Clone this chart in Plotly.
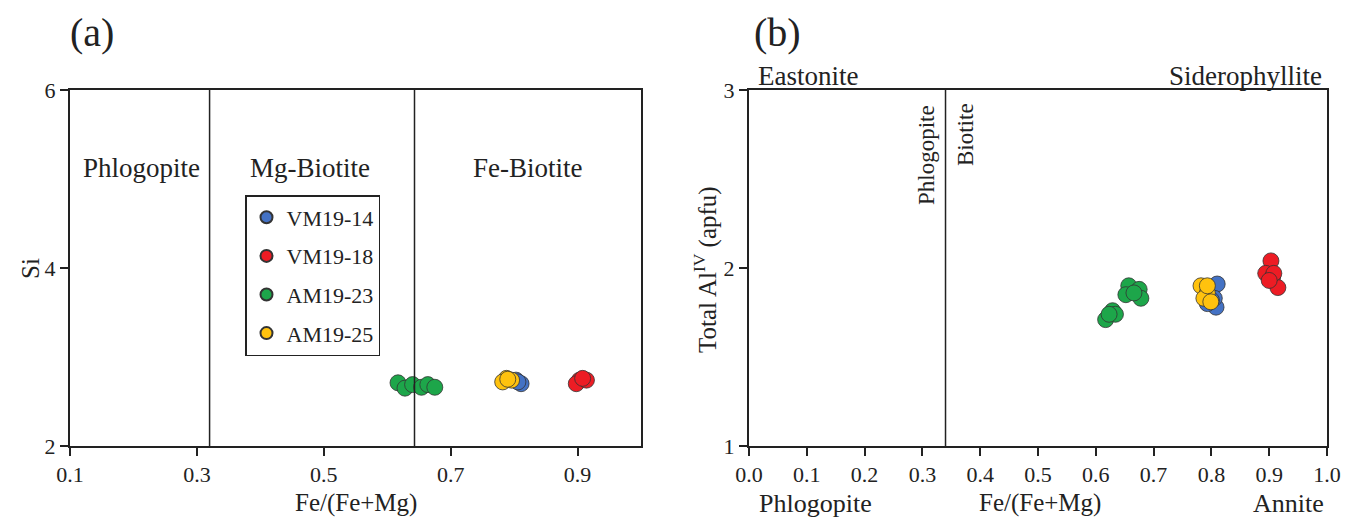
import plotly.graph_objects as go

# ---------------- data ----------------
series_names = ["VM19-14", "VM19-18", "AM19-23", "AM19-25"]
series_colors = ["#4472C4", "#ED1C24", "#1DA64A", "#FFC20E"]

# panel (a): Fe/(Fe+Mg) vs Si
a_vm1914_x = [0.803, 0.811, 0.806]
a_vm1914_y = [2.74, 2.70, 2.72]
a_vm1918_x = [0.903, 0.898, 0.914, 0.908]
a_vm1918_y = [2.74, 2.70, 2.74, 2.76]
a_am1923_x = [0.617, 0.628, 0.640, 0.654, 0.664, 0.675]
a_am1923_y = [2.71, 2.65, 2.69, 2.66, 2.69, 2.66]
a_am1925_x = [0.788, 0.782, 0.796, 0.790]
a_am1925_y = [2.76, 2.72, 2.74, 2.75]

# panel (b): Fe/(Fe+Mg) vs total Al(IV)
b_vm1914_x = [0.810, 0.808, 0.793, 0.805, 0.800]
b_vm1914_y = [1.91, 1.78, 1.80, 1.83, 1.82]
b_vm1918_x = [0.903, 0.894, 0.906, 0.915, 0.908, 0.900]
b_vm1918_y = [2.04, 1.97, 1.95, 1.89, 1.97, 1.93]
b_am1923_x = [0.657, 0.675, 0.678, 0.652, 0.666, 0.629, 0.617, 0.634, 0.623]
b_am1923_y = [1.90, 1.88, 1.83, 1.85, 1.86, 1.76, 1.71, 1.74, 1.74]
b_am1925_x = [0.782, 0.793, 0.787, 0.799, 0.793]
b_am1925_y = [1.90, 1.86, 1.83, 1.81, 1.90]

a_xticks = [0.1, 0.3, 0.5, 0.7, 0.9]
a_yticks = [2, 4, 6]
b_xticks = [0.0, 0.1, 0.2, 0.3, 0.4, 0.5, 0.6, 0.7, 0.8, 0.9, 1.0]
b_yticks = [1, 2, 3]

a_boundaries = [0.32, 0.643]
b_boundary = 0.34

FONT = "Times New Roman, Liberation Serif, serif"
INK = "#222222"

# the page body has an 8px margin; figure fills the rest of the window
W, H, OFF = 1344, 511, 8
def fx(px):
    return (px - OFF) / W
def fy(py):
    return 1 - (py - OFF) / H

fig = go.Figure()

a_data = [(a_vm1914_x, a_vm1914_y), (a_vm1918_x, a_vm1918_y),
          (a_am1923_x, a_am1923_y), (a_am1925_x, a_am1925_y)]
b_data = [(b_vm1914_x, b_vm1914_y), (b_vm1918_x, b_vm1918_y),
          (b_am1923_x, b_am1923_y), (b_am1925_x, b_am1925_y)]

for i, (name, col) in enumerate(zip(series_names, series_colors)):
    xs, ys = a_data[i]
    fig.add_trace(go.Scatter(
        x=xs, y=ys, mode="markers", name=name, legendgroup=name,
        marker=dict(size=16, color=col, line=dict(color="#333333", width=0.8)),
        xaxis="x", yaxis="y"))
for i, (name, col) in enumerate(zip(series_names, series_colors)):
    xs, ys = b_data[i]
    fig.add_trace(go.Scatter(
        x=xs, y=ys, mode="markers", name=name, legendgroup=name, showlegend=False,
        marker=dict(size=16, color=col, line=dict(color="#333333", width=0.8)),
        xaxis="x2", yaxis="y2"))

# boundary lines
for bx in a_boundaries:
    fig.add_shape(type="line", xref="x", yref="y", x0=bx, x1=bx, y0=2, y1=6,
                  line=dict(color=INK, width=1.5))
fig.add_shape(type="line", xref="x2", yref="y2", x0=b_boundary, x1=b_boundary, y0=1, y1=3,
              line=dict(color=INK, width=1.5))

axis_common = dict(showline=True, linecolor=INK, linewidth=2, mirror=True,
                   ticks="outside", ticklen=8, tickwidth=1.5, tickcolor=INK,
                   showgrid=False, zeroline=False, automargin=False,
                   tickfont=dict(family=FONT, size=22, color=INK))

fig.update_layout(
    template="none",
    width=W, height=H,
    margin=dict(l=0, r=0, t=0, b=0, pad=0),
    paper_bgcolor="white", plot_bgcolor="white",
    font=dict(family=FONT, color=INK),
    xaxis=dict(domain=[fx(70), fx(641)], range=[0.1, 1.0], tickvals=a_xticks,
               ticktext=[f"{v:.1f}" for v in a_xticks], anchor="y", **axis_common),
    yaxis=dict(domain=[fy(446), fy(90)], range=[2, 6], tickvals=a_yticks, anchor="x",
               **axis_common),
    xaxis2=dict(domain=[fx(749), fx(1327)], range=[0.0, 1.0], tickvals=b_xticks,
                ticktext=[f"{v:.1f}" for v in b_xticks], anchor="y2", **axis_common),
    yaxis2=dict(domain=[fy(446), fy(90)], range=[1, 3], tickvals=b_yticks, anchor="x2",
                **axis_common),
    legend=dict(x=fx(245), y=fy(195), xanchor="left", yanchor="top",
                bordercolor=INK, borderwidth=1.5, bgcolor="white",
                font=dict(family=FONT, size=22, color=INK),
                tracegroupgap=7, itemsizing="constant", itemwidth=30),
    showlegend=True,
)

ann_font = dict(family=FONT, size=27, color=INK)
bot_font = dict(family=FONT, size=26, color=INK)
title_font = dict(family=FONT, size=25, color=INK)
def A(text, px, py, font=ann_font, angle=0):
    return dict(text=text, x=fx(px), y=fy(py), xref="paper", yref="paper",
                showarrow=False, textangle=angle, font=font,
                xanchor="center", yanchor="middle")

annotations = [
    A("(a)", 92, 33, dict(family=FONT, size=40, color=INK)),
    A("(b)", 777, 33, dict(family=FONT, size=40, color=INK)),
    A("Phlogopite", 141, 168),
    A("Mg-Biotite", 310, 168),
    A("Fe-Biotite", 528, 168),
    A("Eastonite", 808, 76),
    A("Siderophyllite", 1245, 76),
    A("Phlogopite", 926, 155, dict(family=FONT, size=23, color=INK), -90),
    A("Biotite", 965, 135, dict(family=FONT, size=23, color=INK), -90),
    A("Phlogopite", 815, 503, bot_font),
    A("Annite", 1288, 503, bot_font),
    A("Fe/(Fe+Mg)", 356, 503, title_font),
    A("Fe/(Fe+Mg)", 1040, 503, title_font),
    A("Si", 30, 269, title_font, -90),
    A("Total Al<sup>IV</sup> (apfu)", 705, 270, title_font, -90),
]
fig.update_layout(annotations=annotations)

fig.write_html("out.html")
